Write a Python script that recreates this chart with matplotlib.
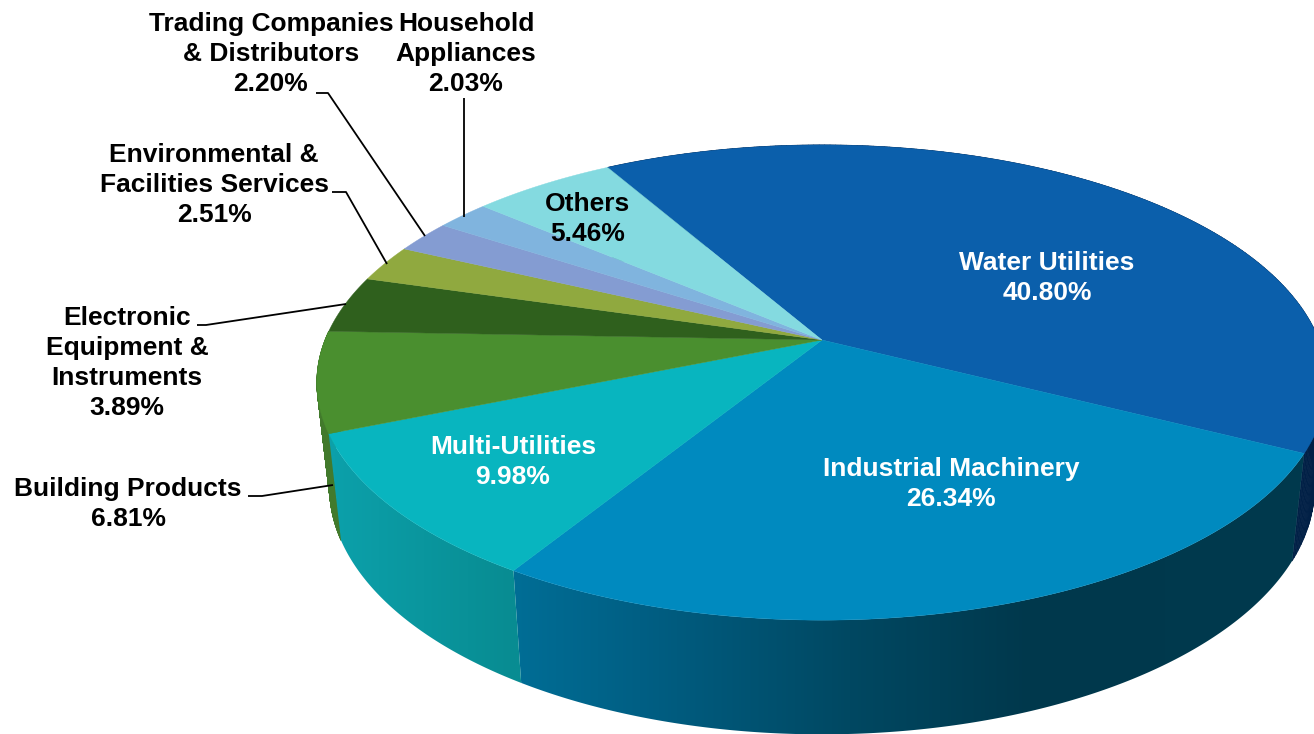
import numpy as np
import matplotlib
matplotlib.use("Agg")
import matplotlib.pyplot as plt
from matplotlib.patches import Polygon
from matplotlib.collections import PolyCollection

categories = ["Water Utilities", "Industrial Machinery", "Multi-Utilities", "Building Products",
              "Electronic Equipment & Instruments", "Environmental & Facilities Services",
              "Trading Companies & Distributors", "Household Appliances", "Others"]
values = [40.80, 26.34, 9.98, 6.81, 3.89, 2.51, 2.20, 2.03, 5.46]
top_colors = ["#0B5FAB", "#008ABF", "#08B5BF", "#4A8F2F", "#2F601D", "#90A93F", "#849CD2", "#80B4DE", "#84DAE0"]
label_texts = ["Water Utilities\n40.80%", "Industrial Machinery\n26.34%", "Multi-Utilities\n9.98%",
               "Building Products\n6.81%", "Electronic\nEquipment &\nInstruments\n3.89%",
               "Environmental &\nFacilities Services\n2.51%", "Trading Companies\n& Distributors\n2.20%",
               "Household\nAppliances\n2.03%", "Others\n5.46%"]
label_pos = [(1047, 278), (951, 484), (513, 462), (128, 504), (127, 363), (214, 185), (271, 54), (466, 54), (588, 219)]
label_cols = ["white", "white", "white", "black", "black", "black", "black", "black", "black"]

# side walls shaded by a horizontal ramp: (screen x, rgb) stops
ramp_stops = {
    1: [(513, (0, 110, 150)), (640, (0, 95, 132)), (850, (0, 72, 98)), (1030, (0, 56, 76)), (1300, (0, 58, 78))],
    2: [(335, (12, 160, 170)), (512, (8, 140, 146))],
}
# side walls in a single colour (they turn away from the viewer)
flat_sides = {0: "#012046", 3: "#427A2C"}

START = -29.9            # clockwise from 12 o'clock, degrees
CX, CY = 822, 340        # apex of the pie on screen
A, B, K = 497, 230, 0.179  # perspective of the disc


def project(theta_deg, r=1.0, bottom=False):
    t = np.radians(theta_deg)
    x, y = r * np.sin(t), r * np.cos(t)
    w = 1 + K * y
    u, v = A * x / w, B * y / w
    if bottom:
        u, v = 0.975 * u, 1.04 * v - 103
    return CX + u, CY - v


fig = plt.figure(figsize=(13.14, 7.34), dpi=100)
ax = fig.add_axes([0, 0, 1, 1])

total = sum(values)
edges = START + np.concatenate([[0], np.cumsum(values)]) * 360.0 / total

for i, col in flat_sides.items():
    th = np.linspace(edges[i], edges[i + 1], 200)
    xt, yt = project(th)
    xb, yb = project(th, bottom=True)
    quads = [[(xt[j], yt[j]), (xt[j + 1], yt[j + 1]), (xb[j + 1], yb[j + 1]), (xb[j], yb[j])]
             for j in range(len(th) - 1)]
    ax.add_collection(PolyCollection(quads, facecolors=col, edgecolors=col, linewidths=0.5, zorder=1))

for i, stops in ramp_stops.items():
    th = np.linspace(edges[i], edges[i + 1], 300)
    xt, yt = project(th)
    xb, yb = project(th, bottom=True)
    outline = np.c_[np.r_[xt, xb[::-1]], np.r_[yt, yb[::-1]]]
    patch = Polygon(outline, closed=True, transform=ax.transData, fc="none", ec="none")
    ax.add_patch(patch)
    x0, x1 = np.floor(outline[:, 0].min()), np.ceil(outline[:, 0].max())
    xs = np.arange(x0, x1 + 1)
    sx = [s[0] for s in stops]
    ramp = np.stack([np.interp(xs, sx, [s[1][c] for s in stops]) / 255 for c in range(3)], axis=-1)[None, :, :]
    y0, y1 = outline[:, 1].min(), outline[:, 1].max()
    im = ax.imshow(ramp, extent=(x0, x1, y1, y0), aspect="auto", interpolation="bilinear", zorder=1.5)
    im.set_clip_path(patch)

ax.set_xlim(0, 1314)
ax.set_ylim(734, 0)
ax.axis("off")

# top faces
for i in range(len(values)):
    th = np.linspace(edges[i], edges[i + 1], 200)
    xt, yt = project(th)
    ax.fill(np.r_[CX, xt], np.r_[CY, yt], color=top_colors[i], lw=0.3, zorder=2)

# leader lines
leaders = [
    [(464, 98), (464, 217)],
    [(316, 93), (328, 93), (425, 236)],
    [(332, 192), (346, 192), (387, 264)],
    [(197, 325), (206, 325), (346, 304)],
    [(248, 496), (262, 496), (333, 485)],
]
for ln in leaders:
    p = np.array(ln)
    ax.plot(p[:, 0], p[:, 1], color="black", lw=1.3, zorder=3, solid_capstyle="butt")

for txt, pos, col in zip(label_texts, label_pos, label_cols):
    ax.text(pos[0], pos[1], txt, color=col, ha="center", va="center", fontsize=19,
            fontweight="bold", family="Liberation Sans", linespacing=1.33, zorder=4)

fig.savefig("out.png", dpi=100, facecolor="white")
